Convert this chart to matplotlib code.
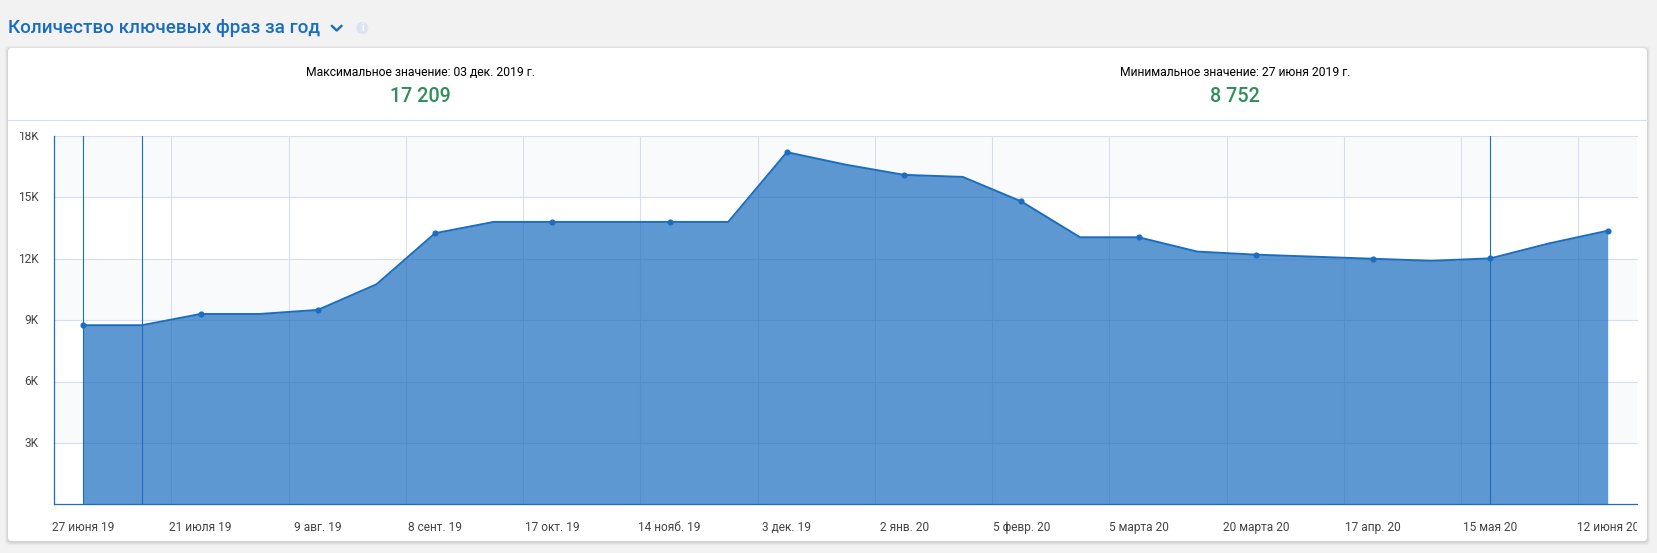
import matplotlib.pyplot as plt
from matplotlib.patches import Circle, FancyBboxPatch
from matplotlib.transforms import Bbox, ScaledTranslation

plt.rcParams["font.family"] = ["Roboto", "DejaVu Sans"]

# === DATA ===
values = [8752, 8752, 9300, 9300, 9500, 10750, 13250, 13800, 13800, 13800,
          13800, 13800, 17209, 16600, 16100, 16000, 14800, 13050, 13050, 12350,
          12200, 12100, 12000, 11900, 12020, 12750, 13370]
x_labels = ["27 июня 19", "21 июля 19", "9 авг. 19", "8 сент. 19", "17 окт. 19",
            "14 нояб. 19", "3 дек. 19", "2 янв. 20", "5 февр. 20", "5 марта 20",
            "20 марта 20", "17 апр. 20", "15 мая 20", "12 июня 20"]
y_ticks = [3000, 6000, 9000, 12000, 15000, 18000]
y_labels = ["3K", "6K", "9K", "12K", "15K", "18K"]
highlighted = [0, 1, 24]

# === CONFIG ===
W, H = 1657, 553
BLUE = "#1a6dbf"
GRID = "#d8deee"
BAND = "#f9fafc"
GREEN = "#2f8f57"
AX_LEFT, AX_RIGHT, AX_TOP, AX_BOTTOM = 54, 1637, 136, 504.3

fig = plt.figure(figsize=(W / 100, H / 100), dpi=100, facecolor="#f2f2f2")

# page layer in pixel coordinates
bg = fig.add_axes([0, 0, 1, 1])
bg.set_xlim(0, W)
bg.set_ylim(H, 0)
bg.axis("off")

for grow, alpha in [(3, 0.03), (2, 0.04), (1, 0.05)]:
    bg.add_patch(FancyBboxPatch((8 - grow, 48 - grow + 1), 1639 + 2 * grow, 493 + 2 * grow,
                                boxstyle="round,pad=0,rounding_size=4",
                                fc="black", ec="none", alpha=alpha))
bg.add_patch(FancyBboxPatch((8, 48), 1639, 493, boxstyle="round,pad=0,rounding_size=4",
                            fc="white", ec="none"))
bg.plot([8, 1647], [120, 120], color=GRID, lw=0.8)

bg.text(8, 28, "Количество ключевых фраз за год", color=BLUE, fontsize=13.55,
        fontweight="medium", va="center", ha="left")
bg.plot([332, 336.7, 341.4], [26, 30.5, 26], color=BLUE, lw=1.7)
bg.add_patch(Circle((362.3, 28), 6, fc="#dbe3f2", ec="none"))
bg.text(362.3, 28, "i", color="white", fontsize=7, fontweight="bold", ha="center", va="center")

bg.text(420.6, 72, "Максимальное значение: 03 дек. 2019 г.", color="black", fontsize=8.7,
        ha="center", va="center")
bg.text(420.6, 96.5, "17 209", color=GREEN, fontsize=14.2, fontweight="medium", ha="center", va="center")
bg.text(1235, 72, "Минимальное значение: 27 июня 2019 г.", color="black", fontsize=8.7,
        ha="center", va="center")
bg.text(1235, 96.5, "8 752", color=GREEN, fontsize=14.2, fontweight="medium", ha="center", va="center")

# === CHART ===
ax = fig.add_axes([AX_LEFT / W, 1 - AX_BOTTOM / H, (AX_RIGHT - AX_LEFT) / W, (AX_BOTTOM - AX_TOP) / H])
ax.patch.set_alpha(0)
positions = list(range(len(values)))
ax.set_xlim(-0.5, len(values) - 0.5)
ax.set_ylim(0, 18000)

# alternating bands
for low, high in zip(y_ticks[:-1], y_ticks[1:]):
    if y_ticks.index(low) % 2 == 0:
        ax.axhspan(low, high, color=BAND, lw=0, zorder=0)

for y in y_ticks:
    ax.axhline(y, color=GRID, lw=0.8, zorder=1, clip_on=False)
for x in positions[1:-1:2]:
    ax.axvline(x + 0.5, color=GRID, lw=0.8, zorder=1)

ax.fill_between(positions, values, 0, color=BLUE, alpha=0.7, lw=0, zorder=2)
for x in highlighted:
    ax.axvline(x, color=BLUE, lw=0.8, zorder=3)
ax.plot(positions, values, color=BLUE, lw=1.4, zorder=4)
ax.plot(positions[::2], values[::2], ls="none", marker="o", ms=3.4, color=BLUE, zorder=5)

for side in ["top", "right"]:
    ax.spines[side].set_visible(False)
ax.spines["left"].set_color(BLUE)
ax.spines["bottom"].set_color(BLUE)
ax.spines["left"].set_linewidth(0.9)
ax.spines["bottom"].set_linewidth(0.9)

ax.set_xticks(positions[::2])
ax.set_xticklabels(x_labels)
ax.set_yticks(y_ticks)
ax.set_yticklabels(y_labels)
ax.tick_params(axis="both", length=0, labelsize=8.6, labelcolor="#444444")
ax.tick_params(axis="x", pad=12)
ax.tick_params(axis="y", pad=11)

# y labels sit a bit above their grid lines
lift = ScaledTranslation(0, 1.2 / 100, fig.dpi_scale_trans)
for label in ax.get_yticklabels():
    label.set_transform(label.get_transform() + lift)

# last date and top value label are cut off in the original
clip = Bbox([[0, 0], [AX_RIGHT, H - 131.5]])
for label in ax.get_xticklabels() + ax.get_yticklabels():
    label.set_clip_on(True)
    label.set_clip_box(clip)

fig.savefig("out.png", dpi=100, facecolor=fig.get_facecolor())
